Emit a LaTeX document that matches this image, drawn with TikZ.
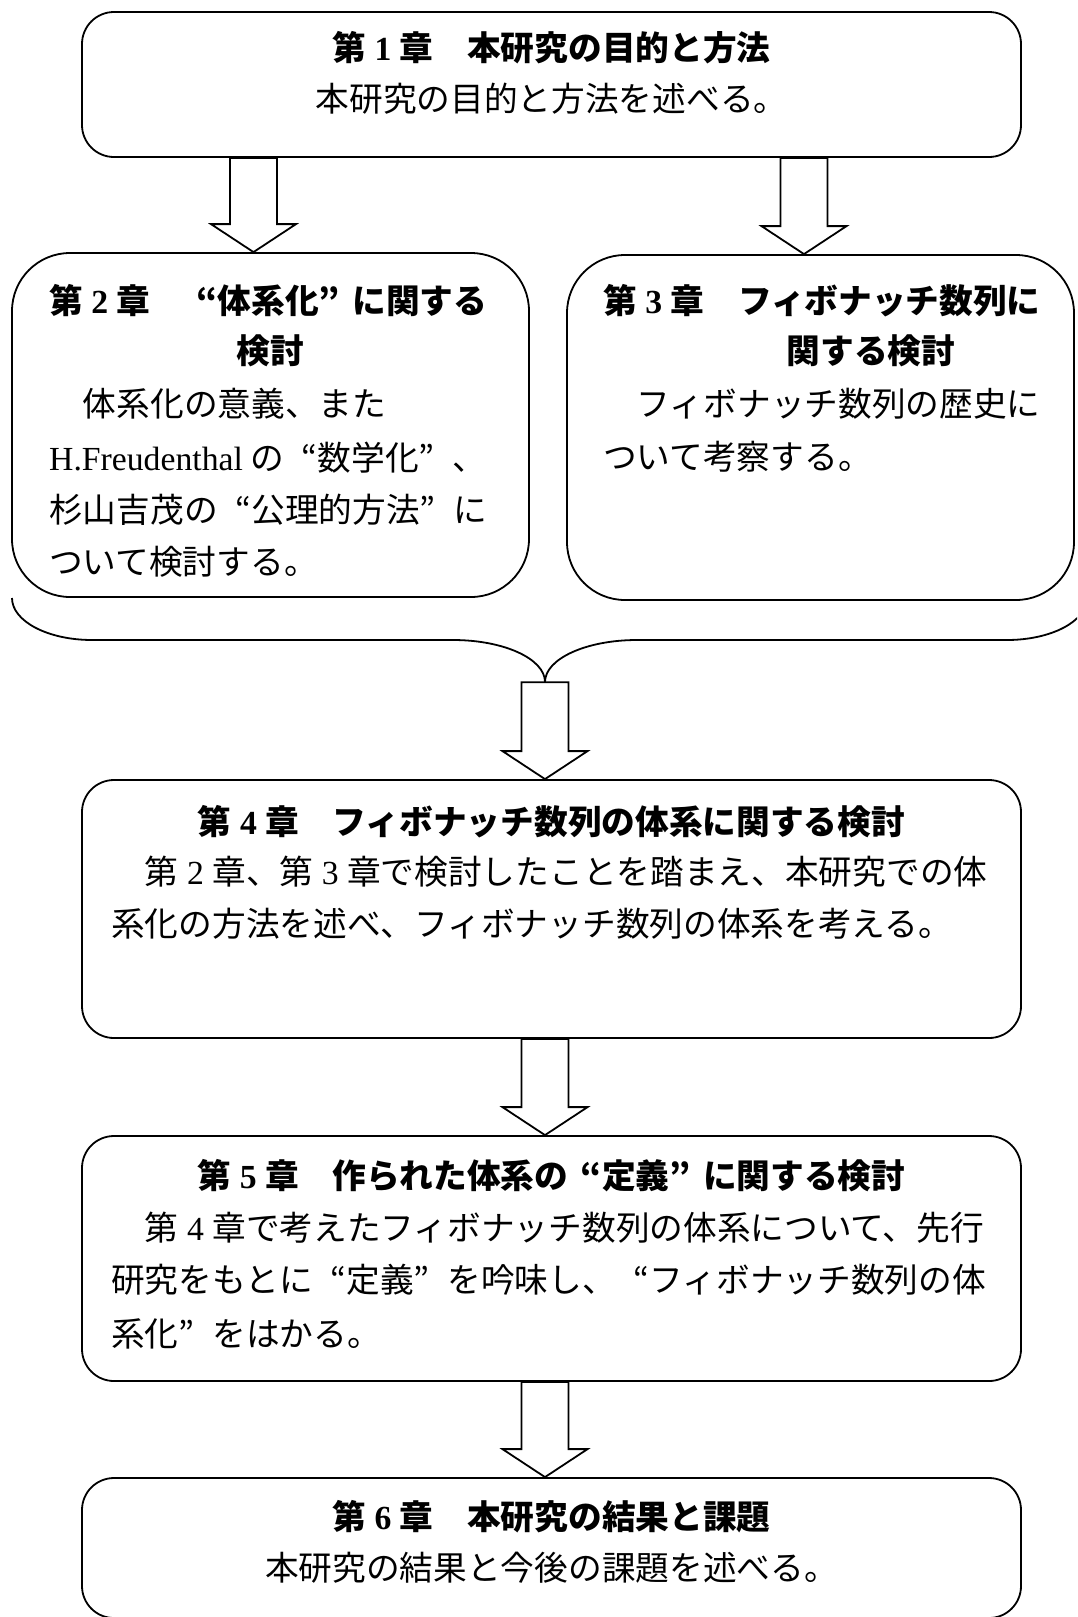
\documentclass[tikz,border=0pt]{standalone}
\usepackage{fontspec}
\usetikzlibrary{calc}
\newfontfamily\jp{Noto Sans CJK JP}
\newfontfamily\lat{Liberation Serif}
\newcommand\jpsize{\fontsize{33.7}{50}\selectfont}
\newcommand\dg[1]{\makebox[1em]{\lat #1}}
\newcommand\oq{\makebox[1em][r]{“}}
\newcommand\cq{\makebox[1em][l]{”}}
\newcommand\blockarr[3]{%
  \draw[blockarrow] let \p1=(#2.south), \p2=(#3.north) in
    ({#1pt-23.5pt},\y1) -- ({#1pt+23.5pt},\y1) -- ({#1pt+23.5pt},{\y2+28pt})
    -- ({#1pt+42.5pt},{\y2+28pt}) -- ({#1pt},\y2) -- ({#1pt-42.5pt},{\y2+28pt})
    -- ({#1pt-23.5pt},{\y2+28pt}) -- cycle;}
\tikzset{
  box/.style={draw, line width=1.8pt, rounded corners=32pt, inner sep=0pt},
  bigbox/.style={draw, line width=1.8pt, rounded corners=58pt, inner sep=0pt},
  ttl/.style={font=\jp\jpsize\bfseries, inner sep=0pt},
  txt/.style={font=\jp\jpsize, inner sep=0pt},
  blockarrow/.style={draw, line width=1.8pt, fill=white, line join=miter},
  brace/.style={draw, line width=1.8pt},
}
\begin{document}
\begin{tikzpicture}[x=1pt, y=-1pt]
\useasboundingbox (0,0) rectangle (1077,1617);
\clip (0,0) rectangle (1077,1617);
\fill[white] (0,0) rectangle (1077,1617);

% boxes
\node[box, minimum width=939pt, minimum height=145pt] (b1) at (551.5,84.5) {};
\node[bigbox, minimum width=517pt, minimum height=344pt] (b2) at (270.5,425) {};
\node[bigbox, minimum width=507pt, minimum height=345pt] (b3) at (820.5,427.5) {};
\node[box, minimum width=939pt, minimum height=258pt] (b4) at (551.5,909) {};
\node[box, minimum width=939pt, minimum height=245pt] (b5) at (551.5,1258.5) {};
\node[box, minimum width=939pt, minimum height=140pt] (b6) at (551.5,1548) {};

% brace
\node[inner sep=0pt, minimum size=0pt] (bm) at (545,682) {};
\draw[brace] (12,598) .. controls (12,621.2) and (47.8,640) .. (92,640)
  -- (453,640) .. controls (503.8,640) and (545,658.8) .. (bm.center)
  .. controls (545,658.8) and (586.2,640) .. (637,640)
  -- (1007,640) .. controls (1051.2,640) and (1087,621.2) .. (1087,598);

% block arrows
\blockarr{253.5}{b1}{b2}
\blockarr{804}{b1}{b3}
\blockarr{545}{bm}{b4}
\blockarr{545}{b4}{b5}
\blockarr{545}{b5}{b6}

% texts box 1
\node[ttl] (t1a) at (551.5,48) {第\dg1章　本研究の目的と方法};
\node[txt] (t1b) at (551.5,99) {本研究の目的と方法を述べる。};

% box 2
\node[ttl, anchor=west] (t2a) at (49,301) {第\dg2章　\oq 体系化\cq に関する};
\node[ttl] (t2b) at (270,351) {検討};
\node[txt, anchor=west] (t2c) at (49,404) {　体系化の意義、また};
\node[txt, anchor=west] (t2d) at (49,458) {{\lat H.Freudenthal} の\oq 数学化\cq 、};
\node[txt, anchor=west] (t2e) at (49,510) {杉山吉茂の\oq 公理的方法\cq に};
\node[txt, anchor=west] (t2f) at (49,562) {ついて検討する。};

% box 3
\node[ttl, anchor=west] (t3a) at (603,301) {第\dg3章　フィボナッチ数列に};
\node[ttl] (t3b) at (871,351) {関する検討};
\node[txt, anchor=west] (t3c) at (603,404) {　フィボナッチ数列の歴史に};
\node[txt, anchor=west] (t3d) at (603,457) {ついて考察する。};

% box 4
\node[ttl] (t4a) at (551.5,822) {第\dg4章　フィボナッチ数列の体系に関する検討};
\node[txt, anchor=west] (t4b) at (111,872) {　第\dg2章、第\dg3章で検討したことを踏まえ、本研究での体};
\node[txt, anchor=west] (t4c) at (111,924) {系化の方法を述べ、フィボナッチ数列の体系を考える。};

% box 5
\node[ttl] (t5a) at (551.5,1176) {第\dg5章　作られた体系の\oq 定義\cq に関する検討};
\node[txt, anchor=west] (t5b) at (111,1228) {　第\dg4章で考えたフィボナッチ数列の体系について、先行};
\node[txt, anchor=west] (t5c) at (111,1280) {研究をもとに\oq 定義\cq を吟味し、\oq フィボナッチ数列の体};
\node[txt, anchor=west] (t5d) at (111,1334) {系化\cq をはかる。};

% box 6
\node[ttl] (t6a) at (551.5,1517) {第\dg6章　本研究の結果と課題};
\node[txt] (t6b) at (551.5,1568) {本研究の結果と今後の課題を述べる。};
\end{tikzpicture}
\end{document}
